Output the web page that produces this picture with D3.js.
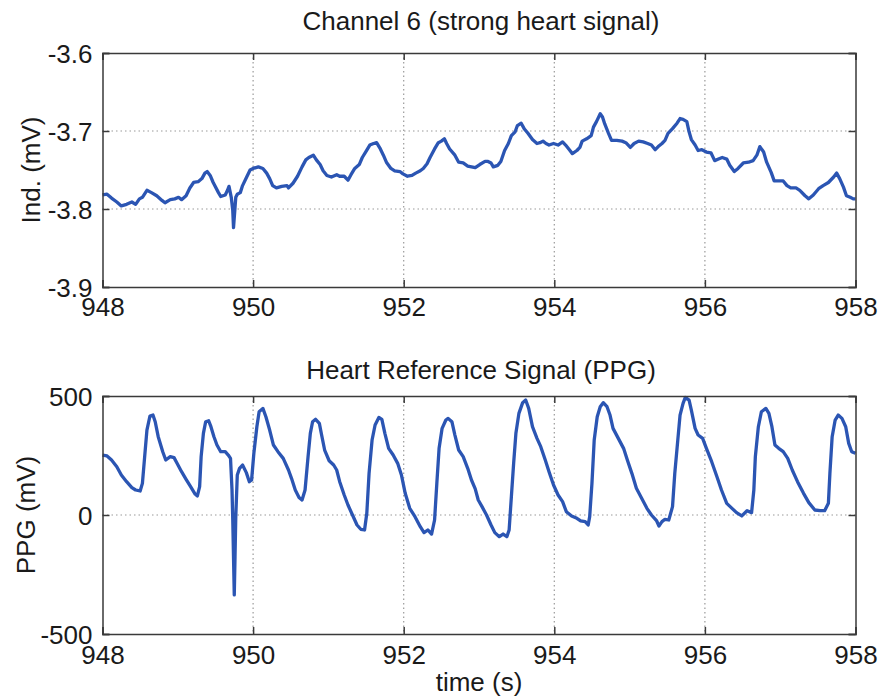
<!DOCTYPE html>
<html>
<head>
<meta charset="utf-8">
<script src="https://cdn.jsdelivr.net/npm/d3@7"></script>
<style>
  html, body { margin: 0; padding: 0; background: #fff; }
  svg text { font-family: "Liberation Sans", Arial, Helvetica, sans-serif; fill: #1a1a1a; }
</style>
</head>
<body>
<svg id="chart" width="878" height="697"></svg>
<script>
// ---------- DATA ----------
const titles = ["Channel 6 (strong heart signal)", "Heart Reference Signal (PPG)"];
const yLabels = ["Ind. (mV)", "PPG (mV)"];
const xLabel = "time (s)";
const xTicks = [948, 950, 952, 954, 956, 958];
const yTicksTop = [-3.9, -3.8, -3.7, -3.6];
const yTicksBottom = [-500, 0, 500];

// Channel 6 : time (s)
const ch6Time = [948.00,948.06,948.12,948.19,948.25,948.32,948.39,948.44,948.49,948.53,948.59,948.65,948.72,948.79,948.83,948.90,948.96,949.01,949.05,949.11,949.16,949.21,949.27,949.32,949.36,949.39,949.43,949.47,949.54,949.57,949.63,949.66,949.68,949.71,949.73,949.74,949.76,949.77,949.79,949.83,949.86,949.91,949.96,950.00,950.07,950.13,950.18,950.22,950.26,950.31,950.38,950.45,950.47,950.53,950.59,950.65,950.70,950.74,950.80,950.84,950.89,950.93,950.98,951.04,951.11,951.15,951.21,951.26,951.30,951.35,951.41,951.45,951.50,951.55,951.60,951.64,951.69,951.73,951.77,951.83,951.88,951.95,951.99,952.05,952.11,952.16,952.22,952.26,952.31,952.35,952.41,952.46,952.50,952.54,952.57,952.61,952.68,952.73,952.79,952.85,952.90,952.95,953.01,953.08,953.12,953.16,953.19,953.25,953.29,953.34,953.39,953.43,953.48,953.51,953.56,953.60,953.65,953.71,953.77,953.81,953.85,953.89,953.93,953.99,954.05,954.11,954.15,954.20,954.24,954.30,954.34,954.37,954.43,954.49,954.52,954.56,954.61,954.64,954.67,954.72,954.76,954.83,954.90,954.95,955.01,955.06,955.12,955.18,955.24,955.29,955.34,955.38,955.43,955.47,955.51,955.57,955.63,955.67,955.71,955.76,955.79,955.82,955.87,955.91,955.96,956.02,956.08,956.13,956.18,956.23,956.29,956.33,956.39,956.44,956.51,956.58,956.64,956.69,956.73,956.78,956.82,956.88,956.92,956.97,957.04,957.09,957.14,957.21,957.26,957.33,957.38,957.44,957.51,957.57,957.64,957.71,957.75,957.79,957.84,957.88,957.93,957.97,958.00];
// Channel 6 : induction (mV)
const ch6Value = [-3.782,-3.781,-3.786,-3.791,-3.796,-3.794,-3.791,-3.794,-3.787,-3.785,-3.776,-3.779,-3.783,-3.789,-3.792,-3.788,-3.787,-3.785,-3.788,-3.783,-3.773,-3.766,-3.765,-3.761,-3.754,-3.752,-3.757,-3.766,-3.779,-3.784,-3.782,-3.776,-3.771,-3.785,-3.802,-3.824,-3.798,-3.785,-3.781,-3.779,-3.770,-3.760,-3.750,-3.748,-3.746,-3.748,-3.754,-3.761,-3.770,-3.773,-3.771,-3.770,-3.773,-3.767,-3.758,-3.746,-3.737,-3.734,-3.731,-3.737,-3.743,-3.751,-3.757,-3.759,-3.756,-3.758,-3.758,-3.763,-3.756,-3.748,-3.743,-3.734,-3.726,-3.718,-3.716,-3.715,-3.723,-3.731,-3.740,-3.748,-3.751,-3.752,-3.755,-3.758,-3.757,-3.754,-3.751,-3.748,-3.742,-3.734,-3.723,-3.715,-3.713,-3.710,-3.716,-3.723,-3.731,-3.740,-3.741,-3.745,-3.746,-3.747,-3.743,-3.739,-3.739,-3.741,-3.746,-3.744,-3.739,-3.725,-3.716,-3.706,-3.701,-3.693,-3.690,-3.697,-3.703,-3.711,-3.716,-3.715,-3.713,-3.716,-3.718,-3.716,-3.718,-3.714,-3.718,-3.724,-3.729,-3.725,-3.721,-3.713,-3.710,-3.706,-3.695,-3.688,-3.678,-3.682,-3.691,-3.703,-3.712,-3.712,-3.713,-3.715,-3.721,-3.716,-3.713,-3.714,-3.716,-3.718,-3.724,-3.720,-3.716,-3.712,-3.703,-3.697,-3.690,-3.684,-3.685,-3.688,-3.701,-3.711,-3.718,-3.725,-3.724,-3.727,-3.728,-3.738,-3.736,-3.734,-3.736,-3.744,-3.752,-3.748,-3.741,-3.740,-3.738,-3.731,-3.720,-3.727,-3.740,-3.753,-3.764,-3.764,-3.764,-3.770,-3.773,-3.773,-3.776,-3.783,-3.787,-3.782,-3.774,-3.770,-3.766,-3.759,-3.754,-3.761,-3.772,-3.783,-3.785,-3.787,-3.787];

// PPG : time (s)
const ppgTime = [948.00,948.06,948.12,948.19,948.25,948.32,948.39,948.44,948.50,948.53,948.56,948.59,948.63,948.67,948.70,948.74,948.80,948.84,948.90,948.95,948.99,949.05,949.11,949.17,949.23,949.26,949.29,949.31,949.34,949.37,949.41,949.44,949.48,949.52,949.57,949.63,949.67,949.70,949.72,949.73,949.75,949.76,949.77,949.79,949.82,949.86,949.91,949.95,949.98,950.01,950.05,950.08,950.13,950.17,950.22,950.27,950.33,950.40,950.47,950.51,950.56,950.61,950.65,950.69,950.73,950.76,950.79,950.83,950.88,950.91,950.95,951.01,951.07,951.11,951.15,951.21,951.26,951.32,951.38,951.43,951.48,951.51,951.54,951.58,951.62,951.67,951.71,951.75,951.80,951.86,951.92,951.97,952.02,952.08,952.15,952.22,952.27,952.32,952.37,952.41,952.44,952.47,952.51,952.56,952.59,952.64,952.68,952.73,952.79,952.85,952.90,952.95,952.99,953.04,953.10,953.16,953.21,953.27,953.32,953.37,953.40,953.43,953.46,953.49,953.53,953.58,953.62,953.66,953.71,953.77,953.82,953.88,953.93,953.99,954.05,954.11,954.16,954.23,954.30,954.35,954.41,954.45,954.47,954.50,954.53,954.57,954.61,954.65,954.70,954.74,954.78,954.85,954.92,954.97,955.03,955.09,955.16,955.23,955.29,955.36,955.39,955.43,955.47,955.52,955.57,955.60,955.64,955.67,955.71,955.74,955.79,955.82,955.87,955.91,955.97,956.02,956.09,956.16,956.22,956.29,956.36,956.42,956.49,956.56,956.62,956.65,956.67,956.71,956.75,956.81,956.85,956.89,956.93,956.98,957.04,957.10,957.16,957.23,957.31,957.38,957.46,957.53,957.59,957.64,957.66,957.69,957.73,957.77,957.82,957.87,957.91,957.95,958.00];
// PPG : value (mV)
const ppgValue = [252,248,231,203,168,140,115,105,101,133,245,357,416,420,392,329,266,231,245,241,217,182,150,119,88,80,119,245,343,392,396,371,329,294,266,266,252,238,105,-21,-336,-175,-7,168,196,210,178,140,147,259,371,434,448,413,357,294,266,238,189,154,105,74,63,105,245,343,392,402,385,336,273,228,210,189,140,84,42,0,-42,-60,-63,7,175,315,378,410,402,343,280,252,217,168,91,28,-7,-49,-74,-63,-80,-21,133,280,364,399,406,392,336,273,245,196,147,110,63,35,0,-42,-74,-91,-80,-91,-63,77,217,343,427,472,483,448,371,322,287,231,182,126,84,56,14,-4,-14,-25,-28,-42,-7,133,315,413,455,472,455,420,364,322,280,231,175,112,70,28,0,-25,-46,-28,-18,-21,35,175,315,420,469,494,483,441,364,336,322,280,224,161,105,49,28,10,-4,18,10,105,245,371,434,448,427,371,294,280,266,238,189,140,91,52,21,18,18,49,175,329,399,420,406,371,301,266,259];

// ---------- DRAWING ----------
const svg = d3.select("#chart");
const lineColor = "#2b55b3";
const frameColor = "#3a3a3a";
const gridColor = "#9a9a9a";
const FONT = 26;

const left = 102.5, right = 855.5;
const panels = [
  { title: titles[0], yLabel: yLabels[0], time: ch6Time, vals: ch6Value,
    yDomain: [-3.9, -3.6], yTicks: yTicksTop, top: 53, bottom: 287,
    fmt: d => d3.format(".1f")(d).replace("−", "-"), titleY: 30, xTickY: 316, yLabelX: 40 },
  { title: titles[1], yLabel: yLabels[1], time: ppgTime, vals: ppgValue,
    yDomain: [-500, 500], yTicks: yTicksBottom, top: 396, bottom: 634,
    fmt: d => String(d), titleY: 379, xTickY: 664, yLabelX: 35 }
];

panels.forEach(p => {
  const x = d3.scaleLinear().domain([948, 958]).range([left, right]);
  const y = d3.scaleLinear().domain(p.yDomain).range([p.bottom, p.top]);
  const g = svg.append("g");

  // grid
  g.append("g").selectAll("line").data(xTicks.slice(1, -1)).join("line")
    .attr("x1", d => x(d)).attr("x2", d => x(d))
    .attr("y1", p.top).attr("y2", p.bottom)
    .attr("stroke", gridColor).attr("stroke-width", 1.2)
    .attr("stroke-dasharray", "1.5,3");
  g.append("g").selectAll("line").data(p.yTicks.slice(1, -1)).join("line")
    .attr("y1", d => y(d)).attr("y2", d => y(d))
    .attr("x1", left).attr("x2", right)
    .attr("stroke", gridColor).attr("stroke-width", 1.2)
    .attr("stroke-dasharray", "1.5,3");

  // data line
  const pts = p.time.map((t, i) => [t, p.vals[i]]);
  g.append("path").datum(pts)
    .attr("fill", "none").attr("stroke", lineColor)
    .attr("stroke-width", 3.3).attr("stroke-linejoin", "round")
    .attr("d", d3.line().x(d => x(d[0])).y(d => y(d[1])));

  // axes with inward ticks
  const tick = 7;
  const axB = d3.axisBottom(x).tickValues(xTicks).tickSize(-tick).tickFormat(d3.format("d")).tickPadding(10);
  const axT = d3.axisTop(x).tickValues(xTicks).tickSize(-tick).tickFormat("");
  const axL = d3.axisLeft(y).tickValues(p.yTicks).tickSize(-tick).tickFormat(p.fmt).tickPadding(10);
  const axR = d3.axisRight(y).tickValues(p.yTicks).tickSize(-tick).tickFormat("");

  const gb = g.append("g").attr("transform", `translate(0,${p.bottom})`).call(axB);
  const gt = g.append("g").attr("transform", `translate(0,${p.top})`).call(axT);
  const gl = g.append("g").attr("transform", `translate(${left},0)`).call(axL);
  const gr = g.append("g").attr("transform", `translate(${right},0)`).call(axR);
  [gb, gt, gl, gr].forEach(a => {
    a.selectAll(".domain").attr("stroke", frameColor).attr("stroke-width", 1.5);
    a.selectAll(".tick line").attr("stroke", frameColor).attr("stroke-width", 1.5);
  });
  gb.selectAll(".tick text").attr("font-size", FONT).attr("fill", "#1a1a1a")
    .attr("dy", null)
    .attr("y", p.xTickY - p.bottom);
  gl.selectAll(".tick text").attr("font-size", FONT).attr("fill", "#1a1a1a")
    .attr("dy", "0.36em");
  [gb, gl].forEach(a => a.attr("font-family", null));

  // title
  svg.append("text").attr("x", (left + right) / 2 + 2).attr("y", p.titleY)
    .attr("text-anchor", "middle").attr("font-size", 26).text(p.title);
  // y label
  svg.append("text")
    .attr("transform", `translate(${p.yLabelX},${(p.top + p.bottom) / 2}) rotate(-90)`)
    .attr("text-anchor", "middle").attr("font-size", FONT).text(p.yLabel);
});

svg.append("text").attr("x", (left + right) / 2).attr("y", 691)
  .attr("text-anchor", "middle").attr("font-size", FONT).text(xLabel);
</script>
</body>
</html>
